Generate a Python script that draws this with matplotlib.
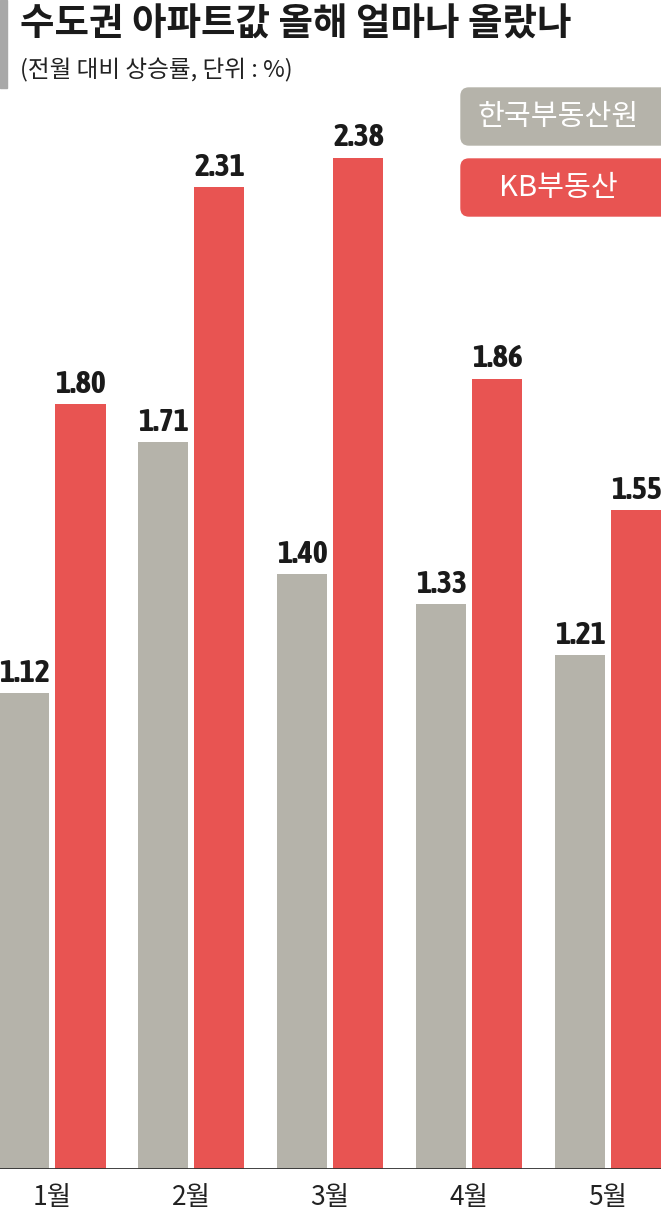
import numpy as np
import matplotlib.pyplot as plt
from matplotlib import font_manager
from matplotlib.patches import FancyBboxPatch, Rectangle

months = ["1월", "2월", "3월", "4월", "5월"]
reb = [1.12, 1.71, 1.40, 1.33, 1.21]      # 한국부동산원
kb = [1.80, 2.31, 2.38, 1.86, 1.55]       # KB부동산
series_names = ["한국부동산원", "KB부동산"]

gray = "#b5b3aa"
red = "#e85452"

# a narrow bold face for the numbers if one is installed
fonts = font_manager.fontManager.ttflist
narrow_bold = sorted({f.name for f in fonts
                      if ("Narrow" in f.name or "Condensed" in f.name)
                      and f.weight in (700, "bold")})
num_font = narrow_bold[:1] + ["Liberation Sans", "DejaVu Sans"]
num_size = 23 if narrow_bold else 19
kr_font = ["Noto Sans CJK KR", "DejaVu Sans"]

W, H = 661, 1217
fig = plt.figure(figsize=(W / 100, H / 100), dpi=100)

# axes: full width, baseline 48 px from bottom
ax = fig.add_axes([0, 48 / H, 1, 1169 / H])
step = 139.0
x = np.arange(len(months))
bw = 50 / step
ax.bar(x - 27.5 / step, reb, width=bw, color=gray, zorder=2)
ax.bar(x + 28.5 / step, kb, width=bw, color=red, zorder=2)
ax.set_xlim(-52 / step, (W - 52) / step)
ax.set_ylim(0, 1169 / 425)
for s in ax.spines.values():
    s.set_visible(False)
ax.set_yticks([])
ax.set_xticks(x)
ax.set_xticklabels(months, fontsize=19, family=kr_font, color="#222222")
ax.tick_params(axis="x", length=0, pad=11)
ax.axhline(0, color="#333333", lw=1.3, zorder=3)

for i in range(len(months)):
    ax.text(x[i] - 27.5 / step, reb[i] + 0.026, f"{reb[i]:.2f}", ha="center", va="baseline",
            fontsize=num_size, fontweight="bold", family=num_font, color="#1a1a1a")
    ax.text(x[i] + 28.5 / step, kb[i] + 0.026, f"{kb[i]:.2f}", ha="center", va="baseline",
            fontsize=num_size, fontweight="bold", family=num_font, color="#1a1a1a")

# title block
fig.patches.append(Rectangle((0, 1 - 88 / H), 7 / W, 88 / H, transform=fig.transFigure,
                             color="#a8a8a8"))
fig.text(20 / W, 1 - 24 / H, "수도권 아파트값 올해 얼마나 올랐나", ha="left", va="center",
         fontsize=27, fontweight="heavy", family=kr_font, color="#1a1a1a")
fig.text(20 / W, 1 - 70 / H, "(전월 대비 상승률, 단위 : %)", ha="left", va="center",
         fontsize=17, family=kr_font, color="#222222")

# legend boxes
for j, (name, c) in enumerate(zip(series_names, [gray, red])):
    y0 = 1 - (145 + j * 71) / H
    fig.patches.append(FancyBboxPatch((461 / W, y0), 210 / W, 57 / H,
                                      boxstyle="round,pad=0,rounding_size=0.012",
                                      transform=fig.transFigure, color=c,
                                      mutation_aspect=W / H))
    fig.text(558 / W, y0 + 28 / H, name, ha="center", va="center", fontsize=21,
             family=kr_font, color="white")

fig.savefig("out.png", dpi=100)
